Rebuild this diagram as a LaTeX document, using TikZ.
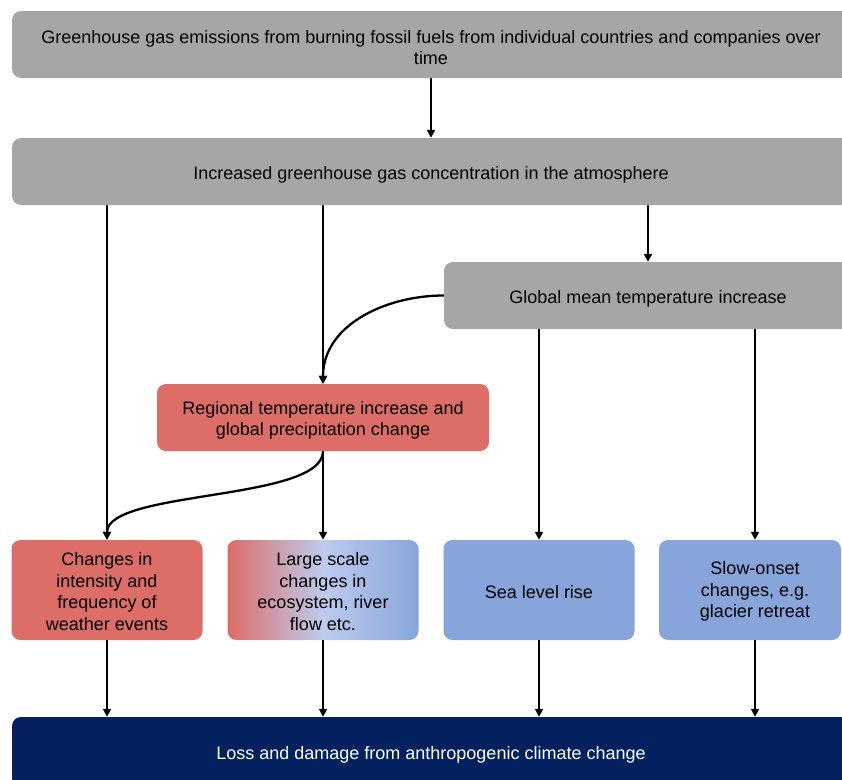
\documentclass[tikz,border=0pt]{standalone}
\usepackage{fontspec}
\setmainfont{Liberation Sans}
\usetikzlibrary{arrows.meta}
\definecolor{boxgray}{HTML}{A6A6A6}
\definecolor{boxred}{HTML}{DC6D67}
\definecolor{boxblue}{HTML}{87A5DA}
\definecolor{boxlight}{HTML}{BDCBEE}
\definecolor{boxnavy}{HTML}{03215E}
\newcommand\tsA{\rule{0pt}{19pt}}
\newcommand\tsB{\rule{0pt}{16pt}}
\newcommand\tsC{\rule{0pt}{17pt}}
\tikzset{
  every node/.style={font=\fontsize{18}{21.6}\selectfont, align=center, inner sep=0pt},
  flowbox/.style={rectangle, rounded corners=9pt, minimum height=67pt},
  graybox/.style={flowbox, fill=boxgray},
  redbox/.style={flowbox, fill=boxred},
  bluebox/.style={flowbox, fill=boxblue},
  smallbox/.style={minimum width=191pt, minimum height=100pt},
  arr/.style={line width=2.3pt, -{Triangle[length=8pt,width=8pt]}},
}
\begin{document}
\begin{tikzpicture}[x=1pt,y=1pt]
\useasboundingbox (0,0) rectangle (842,-779);
\clip (0,0) rectangle (842,-779);
\node[graybox, minimum width=838pt] (top) at (431,-44.5)
  {\tsA Greenhouse gas emissions from burning fossil fuels from individual countries and companies over\\time};
\node[graybox, minimum width=838pt] (conc) at (431,-171.5)
  {\tsA Increased greenhouse gas concentration in the atmosphere};
\node[graybox, minimum width=408pt] (glob) at (648,-295.5)
  {\tsA Global mean temperature increase};
\node[redbox, minimum width=332pt] (reg) at (323,-417.5)
  {\tsA Regional temperature increase and\\global precipitation change};
\node[redbox, smallbox] (b1) at (107,-590)
  {\tsB Changes in\\intensity and\\frequency of\\weather events};
\node[flowbox, smallbox, left color=boxred, right color=boxblue, middle color=boxlight] (b2) at (323,-590)
  {\tsB Large scale\\changes in\\ecosystem, river\\flow etc.};
\node[bluebox, smallbox] (b3) at (539,-590) {\tsC Sea level rise};
\node[bluebox, smallbox, minimum width=182pt] (b4) at (750,-590) {};
\node (b4t) at (755,-590) {\tsB Slow-onset\\changes, e.g.\\glacier retreat};
\node[flowbox, fill=boxnavy, minimum width=838pt, minimum height=70pt, text=white] (loss) at (431,-752)
  {\tsA Loss and damage from anthropogenic climate change};

\draw[arr] (top) -- (conc);
\draw[arr] (conc.south -| b1.north) -- (b1.north);
\draw[arr] (conc.south -| reg.north) -- (reg.north);
\draw[arr] (conc.south -| glob.north) -- (glob.north);
\draw[arr] (glob.west) to[out=180,in=90] (reg.north);
\draw[arr] (reg.south) -- (b2.north);
\draw[arr] (reg.south) .. controls +(0,-50) and +(0,50) .. (b1.north);
\draw[arr] (glob.south -| b3.north) -- (b3.north);
\draw[arr] (glob.south -| b4t.north) -- (b4.north -| b4t.north);
\draw[arr] (b1.south) -- (b1.south |- loss.north);
\draw[arr] (b2.south) -- (b2.south |- loss.north);
\draw[arr] (b3.south) -- (b3.south |- loss.north);
\draw[arr] (b4.south -| b4t.south) -- (loss.north -| b4t.south);
\end{tikzpicture}
\end{document}
